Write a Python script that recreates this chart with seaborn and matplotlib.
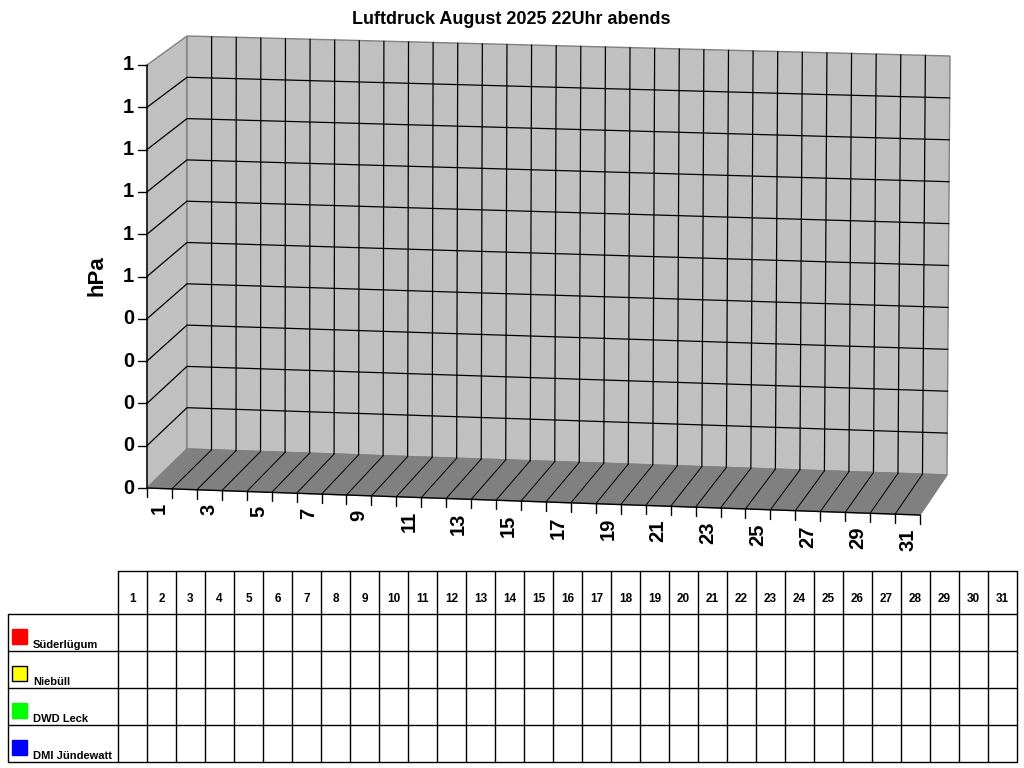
"""
Luftdruck August 2025, 22 Uhr abends: pseudo-3D chart with data table below.
"""

import matplotlib

matplotlib.use("Agg")
import matplotlib.pyplot as plt
import numpy as np
import pandas as pd
import seaborn as sns
from matplotlib import font_manager

# ---- data -------------------------------------------------------------
days = list(range(1, 32))
stations = ["Süderlügum", "Niebüll", "DWD Leck", "DMI Jündewatt"]
station_colors = ["#FF0000", "#FFFF00", "#00FF00", "#0000FF"]

# no readings recorded yet (all cells in the table are empty)
nan = float("nan")
pressure_suederluegum = [nan] * 31
pressure_niebuell = [nan] * 31
pressure_dwd_leck = [nan] * 31
pressure_dmi_juendewatt = [nan] * 31

y_ticks = [0.0, 0.1, 0.2, 0.3, 0.4, 0.5, 0.6, 0.7, 0.8, 0.9, 1.0]
y_tick_labels = ["0", "0", "0", "0", "0", "1", "1", "1", "1", "1", "1"]
x_tick_days = days[::2]

title = "Luftdruck August 2025 22Uhr abends"
y_label = "hPa"

# ---- style ------------------------------------------------------------
sns.set_theme(style="white")
plt.rcParams["font.family"] = ["Liberation Sans", "DejaVu Sans"]
plt.rcParams["text.color"] = "black"
font_names = {f.name for f in font_manager.fontManager.ttflist}
narrow = "Liberation Sans Narrow" if "Liberation Sans Narrow" in font_names else "Liberation Sans"

WALL = "#C0C0C0"
FLOOR = "#808080"
EDGE = "#808080"

# box corners in pixel space: (u, v, depth) -> (x, y)
corners = {
    (0, 0, 0): (147, 488), (1, 0, 0): (920, 515),
    (0, 1, 0): (147, 65), (1, 1, 0): (920, 86),
    (0, 0, 1): (187, 449), (1, 0, 1): (947, 475),
    (0, 1, 1): (187, 36), (1, 1, 1): (950, 56),
}


def project(u, v, d):
    u, v, d = np.asarray(u, float), np.asarray(v, float), np.asarray(d, float)
    out = []
    for k in range(2):
        val = 0.0
        for a in (0, 1):
            for b in (0, 1):
                for c in (0, 1):
                    w = (u if a else 1 - u) * (v if b else 1 - v) * (d if c else 1 - d)
                    val = val + w * corners[(a, b, c)][k]
        out.append(val)
    return out[0], out[1]


def face(pts):
    return np.array([project(*p) for p in pts])


fig = plt.figure(figsize=(10.24, 7.68), dpi=100)
ax = fig.add_axes([0, 0, 1, 1])
ax.set_xlim(0, 1024)
ax.set_ylim(768, 0)
ax.axis("off")

n = len(days)

# walls and floor
ax.add_patch(plt.Polygon(face([(0, 0, 0), (0, 1, 0), (0, 1, 1), (0, 0, 1)]),
                         facecolor=WALL, edgecolor=EDGE, lw=1, zorder=1))
ax.add_patch(plt.Polygon(face([(0, 0, 1), (1, 0, 1), (1, 1, 1), (0, 1, 1)]),
                         facecolor=WALL, edgecolor=EDGE, lw=1, zorder=1))
ax.add_patch(plt.Polygon(face([(0, 0, 0), (1, 0, 0), (1, 0, 1), (0, 0, 1)]),
                         facecolor=FLOOR, edgecolor=FLOOR, lw=1, zorder=1))

# grid lines
for v in y_ticks[1:-1]:
    x0, y0 = project(0, v, 0)
    x1, y1 = project(0, v, 1)
    x2, y2 = project(1, v, 1)
    ax.plot([x0, x1, x2], [y0, y1, y2], color="black", lw=0.9, zorder=2)
for k in range(1, n):
    u = k / n
    xb, yb = project(u, 0, 1)
    xt, yt = project(u, 1, 1)
    xf, yf = project(u, 0, 0)
    ax.plot([xb, xt], [yb, yt], color="black", lw=0.9, zorder=2)
    ax.plot([xf, xb], [yf, yb], color="black", lw=0.7, zorder=2)

# axis lines
x0, y0 = project(0, 0, 0)
x1, y1 = project(0, 1, 0)
x2, y2 = project(1, 0, 0)
ax.plot([x1, x0, x2], [y1, y0, y2], color="black", lw=1, zorder=3)

# y ticks
for v, lab in zip(y_ticks, y_tick_labels):
    x, y = project(0, v, 0)
    ax.plot([x - 9, x], [y, y], color="black", lw=1, zorder=3)
    ax.text(x - 13, y, lab, ha="right", va="center", fontsize=14.5,
            fontweight="bold", color="black")

# x ticks
for k in range(n + 1):
    x, y = project(k / n, 0, 0)
    ax.plot([x, x], [y, y + 9], color="black", lw=1, zorder=3)
for day in x_tick_days:
    x, y = project((day - 0.5) / n, 0, 0)
    ax.text(x, y + 14, str(day), rotation=90, ha="center", va="top",
            fontsize=14.5, fontweight="bold", color="black")

# series (projected onto the middle of the depth)
series = [pressure_suederluegum, pressure_niebuell, pressure_dwd_leck, pressure_dmi_juendewatt]
rows = []
for name, vals in zip(stations, series):
    for day, p in zip(days, vals):
        px, py = project((day - 0.5) / n, p, 0.5)
        rows.append({"station": name, "day": day, "hPa": p, "px": float(px), "py": float(py)})
df = pd.DataFrame(rows)
plot_df = df.dropna()
if not plot_df.empty:
    sns.lineplot(data=plot_df, x="px", y="py", hue="station",
                 palette=dict(zip(stations, station_colors)), estimator=None,
                 sort=False, legend=False, ax=ax, zorder=4)
ax.set_xlim(0, 1024)
ax.set_ylim(768, 0)

# title and axis label
ax.text(511, 20, title, ha="center", va="center", fontsize=13, fontweight="bold")
ax.text(97, 276, y_label, rotation=90, ha="center", va="center", fontsize=16,
        fontweight="bold")

# ---- data table -------------------------------------------------------
t_left, col_w = 118, 29
t_top, head_bot, row_h = 571, 614, 37
leg_left = 8
t_right = t_left + col_w * n
t_bottom = head_bot + row_h * len(stations)

ax.plot([t_left, t_right], [t_top, t_top], color="black", lw=1)
for j in range(len(stations) + 1):
    y = head_bot + row_h * j
    ax.plot([leg_left, t_right], [y, y], color="black", lw=1)
ax.plot([leg_left, leg_left], [head_bot, t_bottom], color="black", lw=1)
for i in range(n + 1):
    x = t_left + col_w * i
    ax.plot([x, x], [t_top, t_bottom], color="black", lw=1)

for i, day in enumerate(days):
    ax.text(t_left + col_w * (i + 0.5), 599, str(day), ha="center", va="center",
            fontsize=8.5, fontweight="bold", family=[narrow, "DejaVu Sans"])

for j, (name, color, vals) in enumerate(zip(stations, station_colors, series)):
    top = head_bot + row_h * j
    ax.add_patch(plt.Rectangle((12, top + 15), 15, 15, facecolor=color,
                               edgecolor="black" if name == "Niebüll" else color,
                               lw=1, zorder=3))
    ax.text(33, top + 34, name, ha="left", va="baseline", fontsize=8,
            fontweight="bold")
    for i, p in enumerate(vals):
        if not np.isnan(p):
            ax.text(t_left + col_w * (i + 0.5), top + row_h / 2, f"{p:.1f}",
                    ha="center", va="center", fontsize=7)

fig.savefig("out.png", dpi=100)
